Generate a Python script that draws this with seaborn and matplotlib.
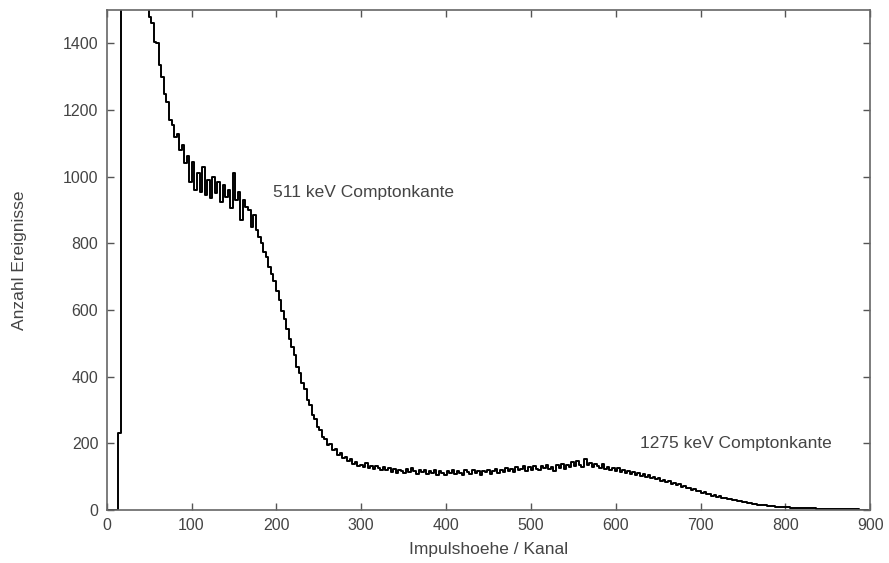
import numpy as np
import matplotlib
matplotlib.use("Agg")
import matplotlib.pyplot as plt
import seaborn as sns

# Counts per channel, every 3 channels (ch 0, 3, ..., 897)
counts = [
    0, 0, 0, 0, 0, 230, 2600, 2450, 2300, 2160,
    2040, 1930, 1830, 1740, 1660, 1590, 1525, 1480, 1462, 1405,
    1402, 1335, 1300, 1248, 1225, 1170, 1155, 1120, 1128, 1080,
    1095, 1040, 1062, 985, 1045, 960, 1010, 955, 1030, 945,
    990, 935, 1000, 950, 985, 925, 975, 940, 960, 905,
    1010, 930, 955, 870, 930, 910, 900, 850, 885, 840,
    820, 800, 775, 760, 728, 708, 688, 656, 630, 598,
    572, 543, 512, 488, 465, 428, 410, 380, 362, 330,
    315, 286, 272, 248, 240, 218, 214, 196, 197, 180,
    182, 166, 170, 155, 158, 146, 152, 138, 143, 131,
    135, 128, 140, 125, 133, 122, 131, 126, 119, 130,
    121, 127, 115, 124, 112, 121, 116, 110, 122, 114,
    126, 118, 109, 120, 113, 121, 108, 117, 111, 120,
    106, 118, 112, 104, 116, 110, 121, 108, 117, 112,
    105, 119, 113, 108, 120, 111, 116, 106, 118, 113,
    121, 109, 117, 124, 112, 120, 114, 126, 117, 122,
    113, 128, 119, 124, 131, 117, 129, 121, 133, 124,
    119, 131, 125, 136, 122, 130, 118, 134, 127, 138,
    124, 135, 129, 143, 131, 148, 136, 128, 152, 134,
    141, 129, 139, 131, 126, 137, 124, 130, 121, 127,
    118, 125, 114, 121, 112, 118, 109, 115, 106, 112,
    103, 108, 99, 104, 96, 100, 92, 96, 88, 91,
    84, 87, 79, 82, 75, 77, 70, 72, 65, 67,
    60, 62, 56, 57, 52, 53, 47, 49, 43, 45,
    40, 41, 36, 37, 33, 33, 29, 30, 26, 27,
    24, 24, 21, 21, 18, 19, 16, 16, 14, 14,
    12, 12, 11, 10, 10, 9, 9, 8, 8, 7,
    7, 7, 6, 6, 6, 5, 5, 5, 5, 4,
    4, 4, 4, 3, 3, 3, 3, 3, 3, 2,
    2, 2, 2, 2, 2, 2, 1, 1, 1, 1,
]
kanal = np.arange(len(counts)) * 3

x_ticks = [0, 100, 200, 300, 400, 500, 600, 700, 800, 900]
y_ticks = [0, 200, 400, 600, 800, 1000, 1200, 1400]

annotations = [
    ("511 keV Comptonkante", 196, 952),
    ("1275 keV Comptonkante", 628, 201),
]

sns.set_style("ticks")
plt.rcParams["font.family"] = ["Liberation Sans", "DejaVu Sans"]
text_col = "#444444"

fig = plt.figure(figsize=(8.89, 5.63), dpi=100)
ax = fig.add_axes([0.120, 0.094, 0.859, 0.888])

# histogram-like steps, as in the original gnuplot output
sns.lineplot(x=kanal, y=counts, ax=ax, color="black", linewidth=1.4,
             drawstyle="steps-mid", estimator=None, sort=False)

ax.set_xlim(0, 900)
ax.set_ylim(0, 1500)
ax.set_xticks(x_ticks)
ax.set_yticks(y_ticks)
ax.tick_params(direction="in", top=True, right=True, length=5, width=1,
               color="#555555", labelsize=11.5, labelcolor=text_col, pad=6)
for sp in ax.spines.values():
    sp.set_visible(True)
    sp.set_color("#666666")
    sp.set_linewidth(1.2)

ax.set_xlabel("Impulshoehe / Kanal", fontsize=12.5, color=text_col, labelpad=6)
ax.set_ylabel("Anzahl Ereignisse", fontsize=12.5, color=text_col, labelpad=26)

for txt, x, y in annotations:
    ax.text(x, y, txt, fontsize=12.5, color=text_col, ha="left", va="center")

fig.savefig("out.png", dpi=100)
